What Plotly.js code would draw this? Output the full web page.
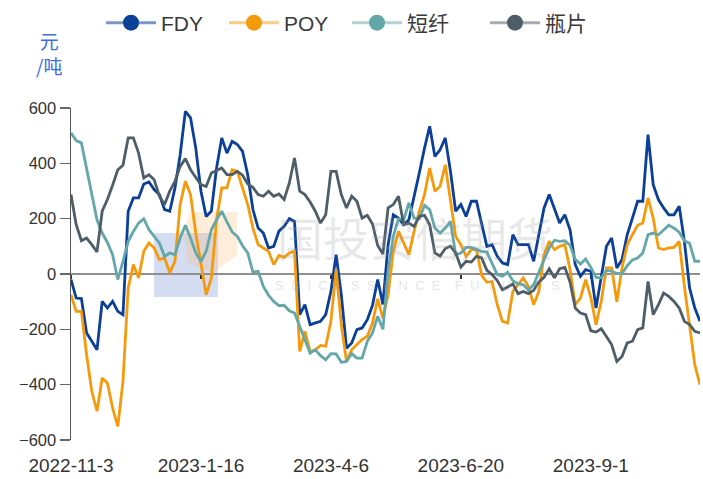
<!DOCTYPE html>
<html><head><meta charset="utf-8">
<script src="https://cdn.plot.ly/plotly-3.0.1.min.js"></script>
<style>html,body{margin:0;padding:0;background:#fff}#chart{width:703px;height:479px}</style>
</head><body><div id="chart"></div>
<script>
// x tick labels (trading-day index positions)
const tickText = ['2022-11-3','2023-1-16','2023-4-6','2023-6-20','2023-9-1'];
const tickIdx = [0, 50, 100, 150, 200];
const STEP = 2; // values sampled every 2 trading days

const seriesNames = ['FDY', 'POY', '短纤', '瓶片'];

const FDY = [-20,-87,-89,-213,-243,-274,-99,-123,-99,-135,
  -147,227,275,275,325,333,305,287,233,227,
  311,431,588,564,455,299,208,227,383,492,
  437,480,468,443,359,233,166,148,94,100,
  155,172,200,190,-147,-111,-183,-177,-171,-147,
  -63,70,-75,-268,-249,-201,-195,-165,-113,-20,
  -110,106,214,202,178,196,287,365,455,534,
  425,449,492,371,227,251,208,263,263,178,
  100,106,64,40,34,142,106,106,106,46,
  142,239,287,233,184,214,160,34,-8,16,
  10,-123,-14,100,130,22,52,142,202,263,
  263,504,323,269,239,214,214,245,118,-51,
  -123,-171];

const POY = [-75,-135,-135,-292,-424,-496,-376,-394,-484,-551,
  -388,-51,34,-14,82,112,94,52,58,4,
  46,251,335,287,148,28,-75,-14,196,311,
  311,377,371,311,251,166,106,94,82,34,
  67,60,76,82,-280,-207,-280,-274,-258,-261,
  -171,16,-183,-316,-274,-255,-237,-225,-177,-90,
  -160,-75,82,154,112,70,154,227,287,383,
  299,317,395,263,136,106,64,88,88,-5,
  -30,-27,-111,-171,-177,-63,-39,-14,-45,-111,
  -63,70,118,88,100,106,16,-111,-87,-20,
  -85,-183,-99,22,22,-100,22,106,142,176,
  184,275,202,94,88,94,96,118,-45,-195,
  -328,-400];

const PSF = [510,482,474,377,287,196,148,114,70,-20,
  46,118,154,184,200,160,136,112,64,76,
  70,130,176,130,76,46,82,160,196,227,
  188,152,136,102,76,7,10,-45,-77,-99,
  -114,-113,-133,-141,-189,-237,-286,-274,-295,-310,
  -288,-289,-319,-316,-288,-304,-304,-243,-213,-153,
  -200,10,136,200,196,257,202,200,248,233,
  166,148,166,190,70,76,96,96,88,82,
  79,40,-2,-8,6,-24,-35,-39,-58,-39,
  10,52,94,122,118,120,104,53,36,54,
  24,-12,-14,13,10,2,1,30,51,58,
  76,142,148,142,159,176,166,151,120,111,
  46,46];

const PET = [287,178,120,130,106,80,227,269,321,377,
  393,492,492,437,347,359,341,281,251,300,
  335,389,417,377,349,323,316,365,374,383,
  359,359,371,357,325,313,287,281,299,281,
  289,269,329,419,299,287,260,227,184,214,
  371,371,287,239,281,263,202,212,181,103,
  72,239,251,281,178,184,172,208,212,178,
  76,65,92,100,76,25,46,43,64,58,
  13,-2,-24,-57,-47,-36,-71,-63,-71,-59,
  -29,-12,19,-14,19,24,-29,-123,-141,-147,
  -205,-210,-198,-225,-255,-316,-298,-249,-243,-201,
  -195,-27,-147,-111,-69,-81,-99,-123,-171,-183,
  -207,-213];

const yTicks = [-600,-400,-200,0,200,400,600];

const colors = ['#0b3f98', '#f59a0c', '#63a7aa', '#4e5e69'];
const legendLine = ['rgba(11,63,152,0.55)','rgba(245,154,12,0.5)','rgba(99,167,170,0.5)','rgba(78,94,105,0.5)'];
const allSeries = [FDY, POY, PSF, PET];
const legendIds = ['legend', 'legend2', 'legend3', 'legend4'];
const legendLeftPx = [101, 224, 347, 485];

const idx = FDY.map((_, k) => k * STEP);
const xMax = idx[idx.length - 1];

const traces = [];
allSeries.forEach((s, k) => {
  traces.push({
    type: 'scatter', mode: 'lines', x: idx, y: s, name: seriesNames[k],
    line: {color: colors[k], width: 2.8}, showlegend: false, hoverinfo: 'x+y'
  });
});
allSeries.forEach((s, k) => {
  traces.push({
    type: 'scatter', mode: 'lines+markers', x: [null], y: [null], name: seriesNames[k],
    legend: legendIds[k],
    line: {color: legendLine[k], width: 3}, marker: {color: colors[k], size: 17},
    showlegend: true, hoverinfo: 'skip'
  });
});
// helper trace for the zero-line axis
traces.push({type: 'scatter', mode: 'lines', x: [null], y: [null], xaxis: 'x2', showlegend: false, hoverinfo: 'skip'});

// pixel -> paper helpers for decoration (watermark, legends)
const L = 71, R = 700, T = 108, B = 440;
const px = v => (v - L) / (R - L);
const py = v => (B - v) / (B - T);
const sp = s => s.split('').join('\u00A0\u00A0');

const layout = {
  width: 703, height: 479,
  margin: {l: L, r: 703 - R, t: T, b: 479 - B, pad: 0},
  paper_bgcolor: '#fff', plot_bgcolor: '#fff',
  showlegend: true,
  xaxis: {
    range: [0, xMax], showgrid: false, zeroline: false, showline: false,
    tickmode: 'array', tickvals: tickIdx, ticktext: tickText,
    ticks: 'outside', ticklen: 8, tickcolor: 'rgba(0,0,0,0)',
    tickfont: {family: 'Liberation Sans, Arial, sans-serif', size: 19, color: '#333'}
  },
  xaxis2: {
    overlaying: 'x', anchor: 'free', position: 0.5, matches: 'x',
    range: [0, xMax], showgrid: false, zeroline: false,
    showline: true, linecolor: '#8f8f8f', linewidth: 2, layer: 'below traces',
    tickmode: 'array', tickvals: tickIdx, ticks: 'outside', ticklen: 4, tickcolor: '#333', tickwidth: 1.5,
    showticklabels: false
  },
  yaxis: {
    range: [-600, 600], showgrid: false, zeroline: false,
    showline: true, linecolor: '#555', linewidth: 1.5,
    tickmode: 'array', tickvals: yTicks,
    ticks: 'outside', ticklen: 10, tickcolor: '#666', tickwidth: 1.5,
    tickfont: {family: 'Liberation Sans, Arial, sans-serif', size: 16.5, color: '#333'}
  },
  annotations: [
    {text: '元<br>/吨', xref: 'paper', yref: 'paper', x: px(49), y: py(53), xanchor: 'center', yanchor: 'middle',
     showarrow: false, font: {family: 'Noto Sans CJK SC, sans-serif', size: 19, color: '#3d6be0'}},
    {text: '国投安信期货', xref: 'paper', yref: 'paper', x: px(415), y: py(236), xanchor: 'center', yanchor: 'middle',
     showarrow: false, font: {family: 'Noto Sans CJK SC, sans-serif', size: 46, color: 'rgba(150,150,150,0.22)'}},
    {text: sp('SDICESSENCE') + '\u00A0\u00A0\u00A0\u00A0' + sp('FUTURES'), xref: 'paper', yref: 'paper', x: px(273), y: py(285), xanchor: 'left', yanchor: 'middle',
     showarrow: false, font: {family: 'Liberation Sans, Arial, sans-serif', size: 13, color: 'rgba(160,160,160,0.3)'}}
  ],
  shapes: [
    {type: 'rect', xref: 'paper', yref: 'paper', x0: px(154), x1: px(218), y0: py(297), y1: py(233),
     fillcolor: 'rgba(110,140,210,0.3)', line: {width: 0}, layer: 'below'},
    {type: 'path', xref: 'paper', yref: 'paper',
     path: 'M' + px(190) + ',' + py(212) + ' L' + px(237) + ',' + py(212) + ' L' + px(237) + ',' + py(255) +
           ' L' + px(213) + ',' + py(273) + ' L' + px(187) + ',' + py(262) + ' L' + px(184) + ',' + py(230) + ' Z',
     fillcolor: 'rgba(250,190,120,0.28)', line: {width: 0}, layer: 'below'}
  ]
};

legendIds.forEach((id, k) => {
  layout[id] = {
    orientation: 'h', x: px(legendLeftPx[k]), xanchor: 'left', y: py(23), yanchor: 'middle',
    font: {family: 'Liberation Sans, Noto Sans CJK SC, sans-serif', size: 21, color: '#3a3a3a'},
    itemwidth: 50, bgcolor: 'rgba(0,0,0,0)'
  };
});

Plotly.newPlot('chart', traces, layout, {displayModeBar: false, staticPlot: true});
</script></body></html>
